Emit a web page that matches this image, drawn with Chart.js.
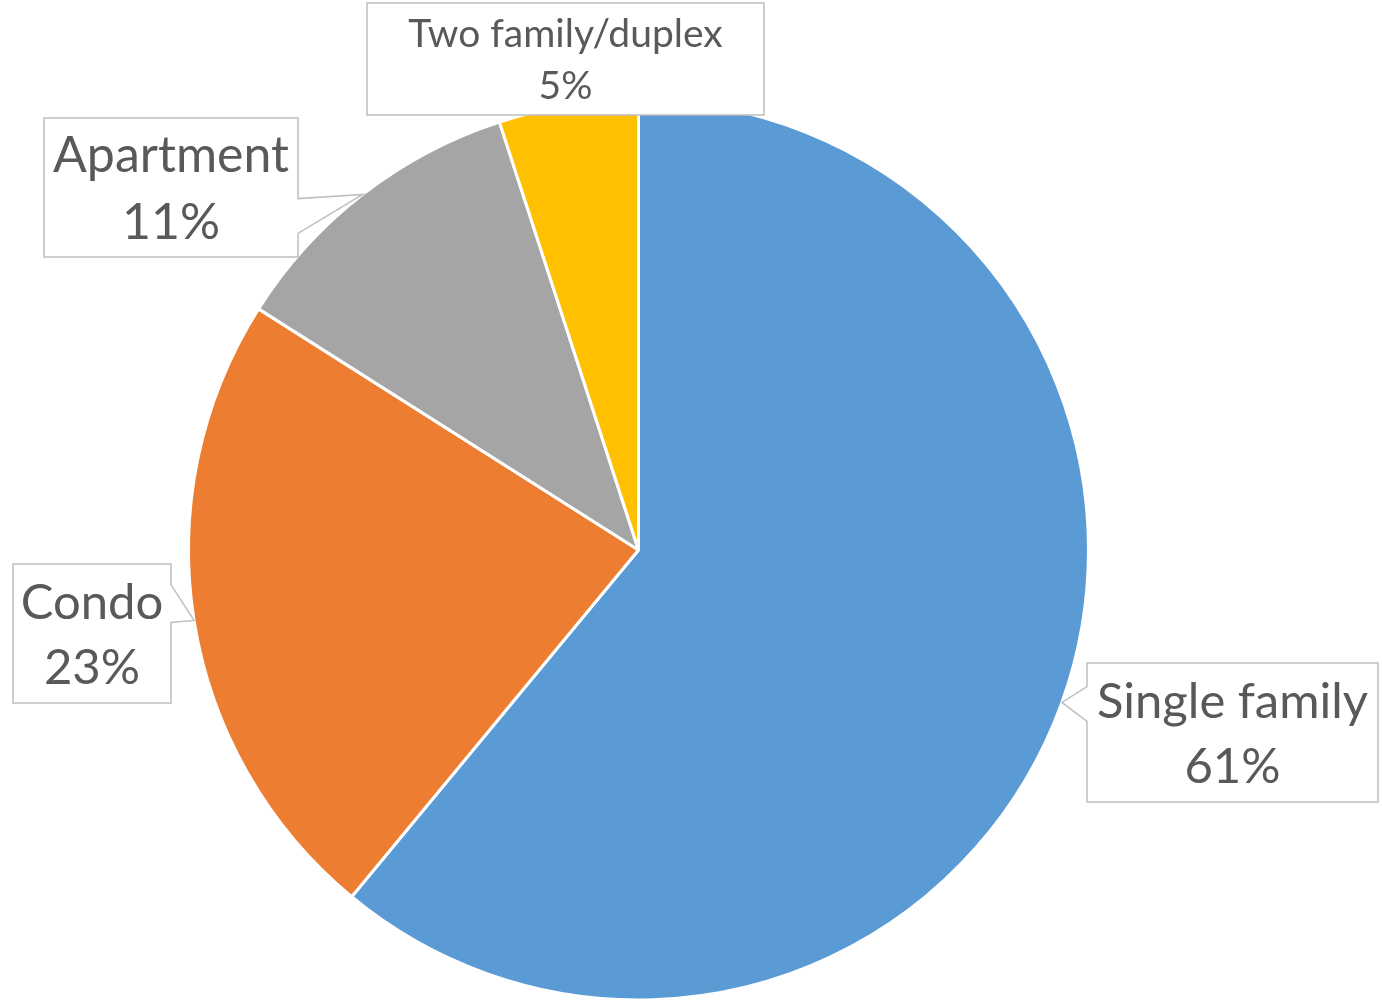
<!DOCTYPE html>
<html>
<head>
    <title>Housing Type Share</title>
    <script src="https://cdn.jsdelivr.net/npm/chart.js"></script>
    <style>
        body { margin: 0; background: #ffffff; }
    </style>
</head>
<body>
    <canvas id="pieChart" width="1382" height="1002"></canvas>
    <script>
        // データ
        const categories = ["Single family", "Condo", "Apartment", "Two family/duplex"];
        const shares = [61, 23, 11, 5];
        const sliceColors = ["#5B9BD5", "#ED7D31", "#A5A5A5", "#FFC000"];

        // ラベルの吹き出し配置 (ボックス位置・サイズ)
        const calloutLayout = [
            { left: 1087, top: 663, width: 291, height: 139, base: [0.17, 0.42], size: 49 },
            { left: 13, top: 564, width: 158, height: 139, base: [0.15, 0.42], size: 49 },
            { left: 44, top: 118, width: 254, height: 139, base: [0.58, 0.83], size: 50 },
            { left: 367, top: 3, width: 397, height: 112, base: [0.3, 0.6], size: 39 },
        ];

        // 吹き出しラベルを描くプラグイン
        const calloutPlugin = {
            id: "callouts",
            afterDraw(chart) {
                const ctx = chart.ctx;
                const arcs = chart.getDatasetMeta(0).data;
                arcs.forEach((arc, i) => {
                    const box = calloutLayout[i];
                    const mid = (arc.startAngle + arc.endAngle) / 2;
                    const tipX = arc.x + Math.cos(mid) * arc.outerRadius;
                    const tipY = arc.y + Math.sin(mid) * arc.outerRadius;
                    const l = box.left, t = box.top, r = box.left + box.width, b = box.top + box.height;
                    const b0 = t + box.height * box.base[0];
                    const b1 = t + box.height * box.base[1];

                    ctx.save();
                    ctx.beginPath();
                    if (tipX > r) {
                        ctx.moveTo(l, t); ctx.lineTo(r, t); ctx.lineTo(r, b0);
                        ctx.lineTo(tipX, tipY); ctx.lineTo(r, b1);
                        ctx.lineTo(r, b); ctx.lineTo(l, b);
                    } else if (tipX < l) {
                        ctx.moveTo(l, t); ctx.lineTo(r, t); ctx.lineTo(r, b); ctx.lineTo(l, b);
                        ctx.lineTo(l, b1); ctx.lineTo(tipX, tipY); ctx.lineTo(l, b0);
                    } else {
                        ctx.rect(l, t, box.width, box.height);
                    }
                    ctx.closePath();
                    ctx.fillStyle = "#ffffff";
                    ctx.fill();
                    ctx.lineWidth = 1.5;
                    ctx.strokeStyle = "#BFBFBF";
                    ctx.stroke();

                    // テキスト (2行)
                    const size = box.size;
                    const cap = size * 0.72;
                    const lineH = size * 1.33;
                    const cx = l + box.width / 2;
                    const cy = t + box.height / 2;
                    const base1 = cy - (cap + lineH) / 2 + cap;
                    ctx.font = size + "px Lato";
                    ctx.fillStyle = "#595959";
                    ctx.textAlign = "center";
                    ctx.textBaseline = "alphabetic";
                    ctx.fillText(categories[i], cx, base1);
                    ctx.fillText(shares[i] + "%", cx, base1 + lineH);
                    ctx.restore();
                });
            },
        };

        const ctx = document.getElementById("pieChart").getContext("2d");

        const pieChart = new Chart(ctx, {
            type: "pie",
            data: {
                labels: categories,
                datasets: [
                    {
                        data: shares,
                        backgroundColor: sliceColors,
                        borderColor: "#ffffff",
                        borderWidth: 3,
                    },
                ],
            },
            options: {
                responsive: false,
                animation: false,
                events: [],
                layout: {
                    padding: { left: 187, right: 292, top: 98.5, bottom: 0.5 },
                },
                plugins: {
                    legend: { display: false },
                    tooltip: { enabled: false },
                },
            },
            plugins: [calloutPlugin],
        });
    </script>
</body>
</html>
